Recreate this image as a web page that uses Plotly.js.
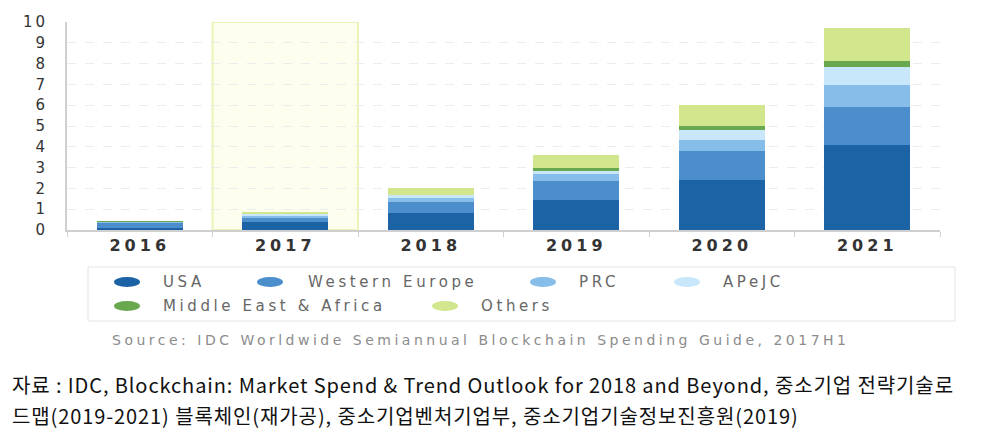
<!DOCTYPE html>
<html>
<head>
<meta charset="utf-8">
<script src="https://cdn.plot.ly/plotly-3.0.1.min.js"></script>
<style>
  html, body { margin: 0; padding: 0; background: #fff; }
  #myChart { width: 988px; height: 434px; }
</style>
</head>
<body>
<div id="myChart"></div>
<script>
// years on the x axis
var years = ["2016", "2017", "2018", "2019", "2020", "2021"];
// spending per region
var usa = [0.12, 0.40, 0.80, 1.43, 2.41, 4.08];
var westernEurope = [0.22, 0.19, 0.57, 0.95, 1.37, 1.84];
var prc = [0.04, 0.09, 0.15, 0.29, 0.56, 1.06];
var apejc = [0.02, 0.07, 0.14, 0.19, 0.48, 0.87];
var middleEastAfrica = [0.01, 0.03, 0.03, 0.14, 0.20, 0.27];
var others = [0.03, 0.08, 0.35, 0.60, 0.99, 1.59];

var seriesNames = ["USA", "Western Europe", "PRC", "APeJC", "Middle East & Africa", "Others"];
var seriesValues = [usa, westernEurope, prc, apejc, middleEastAfrica, others];
var seriesColors = ["#1b63a5", "#4b8ecb", "#86bde9", "#c8e7fb", "#6aa84f", "#d2e68e"];

var yTicks = [0, 1, 2, 3, 4, 5, 6, 7, 8, 9, 10];
var highlightYear = "2017";

var sourceNote = "Source: IDC Worldwide Semiannual Blockchain Spending Guide, 2017H1";
var caption1 = "자료 : IDC, Blockchain: Market Spend & Trend Outlook for 2018 and Beyond, 중소기업 전략기술로";
var caption2 = "드맵(2019-2021) 블록체인(재가공), 중소기업벤처기업부, 중소기업기술정보진흥원(2019)";

// page pixel -> paper coords (plot area is x 67..940, y 22..230)
function px(x) { return (x - 67) / 873; }
function py(y) { return (230 - y) / 208; }

var wideFont = "DejaVu Sans, Verdana, sans-serif";

var traces = seriesNames.map(function (name, i) {
  return {
    type: "bar",
    x: years,
    y: seriesValues[i],
    name: name,
    marker: { color: seriesColors[i], line: { width: 0 } },
    hoverinfo: "x+y+name"
  };
});

// legend drawn by hand so the entries sit where the original has them
var legendPos = [
  { mx: 127, tx: 161, y: 282 },
  { mx: 270, tx: 306, y: 282 },
  { mx: 543, tx: 577, y: 282 },
  { mx: 687, tx: 721, y: 282 },
  { mx: 127, tx: 161, y: 306 },
  { mx: 445, tx: 479, y: 306 }
];

var hi = years.indexOf(highlightYear);
var shapes = [
  {
    type: "rect", xref: "x", yref: "y", layer: "below",
    x0: hi - 0.5, x1: hi + 0.5, y0: 0, y1: 10,
    fillcolor: "#fdfeee", line: { color: "#ebf3b8", width: 2 }
  },
  {
    type: "rect", xref: "paper", yref: "paper",
    x0: px(88), x1: px(955), y0: py(267), y1: py(321),
    line: { color: "#e4e4e4", width: 1 }
  }
];
var annotations = [];
legendPos.forEach(function (p, i) {
  shapes.push({
    type: "circle", xref: "paper", yref: "paper",
    x0: px(p.mx - 13), x1: px(p.mx + 13), y0: py(p.y - 5), y1: py(p.y + 5),
    fillcolor: seriesColors[i], line: { width: 0 }
  });
  annotations.push({
    xref: "paper", yref: "paper", x: px(p.tx), y: py(p.y),
    xanchor: "left", yanchor: "middle", align: "left", showarrow: false,
    text: seriesNames[i],
    font: { family: wideFont, size: 15, color: "#666" }
  });
});
annotations.push({
  xref: "paper", yref: "paper", x: px(110), y: py(340),
  xanchor: "left", yanchor: "middle", align: "left", showarrow: false,
  text: sourceNote,
  font: { family: wideFont, size: 14, color: "#8c8c8c" }
});
annotations.push({
  xref: "paper", yref: "paper", x: px(10), y: py(384),
  xanchor: "left", yanchor: "middle", align: "left", showarrow: false,
  text: caption1,
  font: { family: "Noto Sans CJK KR, sans-serif", size: 20, color: "#111" }
});
annotations.push({
  xref: "paper", yref: "paper", x: px(10), y: py(415),
  xanchor: "left", yanchor: "middle", align: "left", showarrow: false,
  text: caption2,
  font: { family: "Noto Sans CJK KR, sans-serif", size: 20, color: "#111" }
});

var layout = {
  width: 988,
  height: 434,
  margin: { l: 67, r: 48, t: 22, b: 204 },
  paper_bgcolor: "#fff",
  plot_bgcolor: "rgba(0,0,0,0)",
  barmode: "stack",
  bargap: 0.41,
  showlegend: false,
  xaxis: {
    type: "category",
    tickson: "boundaries",
    ticks: "outside",
    ticklen: 5,
    tickcolor: "#cfcfcf",
    showline: true,
    linecolor: "#cfcfcf",
    linewidth: 2,
    showgrid: false,
    tickfont: { family: wideFont, size: 16, color: "#333", weight: "bold" }
  },
  yaxis: {
    range: [0, 10],
    tickvals: yTicks,
    showline: true,
    linecolor: "#cfcfcf",
    linewidth: 2,
    gridcolor: "#ececec",
    griddash: "dash",
    zeroline: false,
    ticks: "",
    ticklabelstandoff: 14,
    tickfont: { family: wideFont, size: 15, color: "#333" }
  },
  shapes: shapes,
  annotations: annotations
};

var config = { displayModeBar: false, staticPlot: true };

Plotly.newPlot("myChart", traces, layout, config).then(function () {
  // the original lettering is drawn wide, so open up the spacing
  document.querySelectorAll("#myChart .xtick text").forEach(function (t) { t.style.letterSpacing = "4px"; });
  document.querySelectorAll("#myChart .ytick text").forEach(function (t) { t.style.letterSpacing = "3px"; });
  var notes = document.querySelectorAll("#myChart .annotation");
  notes.forEach(function (g, i) {
    var t = g.querySelector("text");
    if (!t) return;
    if (i < seriesNames.length) t.style.letterSpacing = "3.6px";
    else if (i === seriesNames.length) t.style.letterSpacing = "3.5px";
    else t.style.letterSpacing = "0.9px";
  });
});
</script>
</body>
</html>
